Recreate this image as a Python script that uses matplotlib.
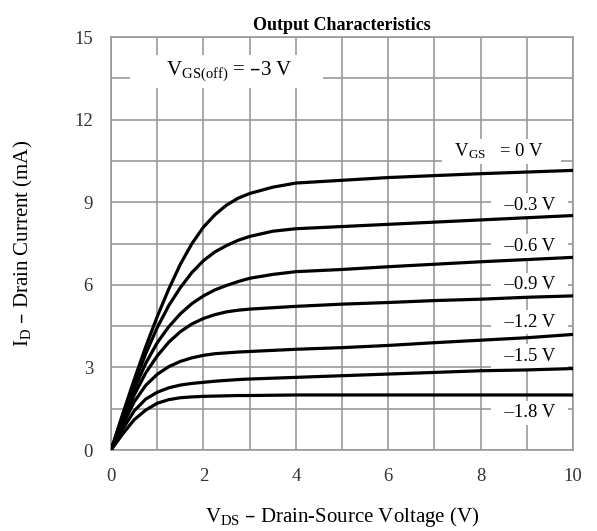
import matplotlib
matplotlib.use("Agg")
import matplotlib.pyplot as plt

plt.rcParams['font.family'] = ['Liberation Serif', 'DejaVu Serif']
plt.rcParams['mathtext.default'] = 'regular'

# drain-source voltage points (V)
vds = [0, 0.25, 0.5, 0.75, 1, 1.25, 1.5, 1.75, 2, 2.25, 2.5, 2.75, 3, 3.5, 4, 5, 6, 7, 8, 9, 10]

# drain current (mA) for each gate-source voltage
id_0v0 = [0, 1.3, 2.55, 3.75, 4.85, 5.85, 6.75, 7.5, 8.1, 8.55, 8.9, 9.15, 9.32, 9.55, 9.7, 9.8, 9.9, 9.97, 10.04, 10.1, 10.16]
id_0v3 = [0, 1.22, 2.4, 3.5, 4.45, 5.25, 5.9, 6.45, 6.88, 7.2, 7.43, 7.62, 7.76, 7.95, 8.04, 8.12, 8.2, 8.28, 8.36, 8.44, 8.52]
id_0v6 = [0, 1.12, 2.2, 3.15, 3.9, 4.48, 4.95, 5.32, 5.6, 5.82, 5.98, 6.12, 6.24, 6.38, 6.48, 6.56, 6.66, 6.75, 6.84, 6.92, 7.0]
id_0v9 = [0, 1.02, 2.0, 2.8, 3.42, 3.92, 4.3, 4.58, 4.78, 4.92, 5.02, 5.08, 5.12, 5.17, 5.22, 5.3, 5.36, 5.43, 5.48, 5.55, 5.6]
id_1v2 = [0, 0.9, 1.75, 2.35, 2.75, 3.03, 3.22, 3.35, 3.44, 3.5, 3.53, 3.56, 3.58, 3.62, 3.66, 3.72, 3.8, 3.9, 3.99, 4.08, 4.2]
id_1v5 = [0, 0.75, 1.42, 1.85, 2.1, 2.26, 2.36, 2.42, 2.46, 2.5, 2.53, 2.56, 2.58, 2.61, 2.64, 2.7, 2.76, 2.82, 2.88, 2.91, 2.96]
id_1v8 = [0, 0.58, 1.1, 1.45, 1.7, 1.83, 1.9, 1.93, 1.95, 1.96, 1.97, 1.98, 1.98, 1.99, 2.0, 2.0, 2.0, 2.0, 2.0, 2.0, 2.0]

curves = [id_0v0, id_0v3, id_0v6, id_0v9, id_1v2, id_1v5, id_1v8]
labels = ['–0.3 V', '–0.6 V', '–0.9 V', '–1.2 V', '–1.5 V', '–1.8 V']
label_y = [8.9, 7.4, 6.0, 4.65, 3.4, 1.35]

fig = plt.figure(figsize=(5.97, 5.31), dpi=100)
ax = fig.add_axes([0.186, 0.1525, 0.774, 0.7775])

for c in curves:
    ax.plot(vds, c, color='black', lw=2.3, zorder=4, solid_capstyle='round',
            solid_joinstyle='round')

ax.text(8.45, 10.85, r'  $V_{GS}$   = 0 V    ', ha='center', va='center', fontsize=13.5,
        bbox=dict(facecolor='white', edgecolor='none', boxstyle='square,pad=0.15'), zorder=3)
for lab, y in zip(labels, label_y):
    ax.text(9.05, y, '  ' + lab + '  ', ha='center', va='center', fontsize=13.5,
            bbox=dict(facecolor='white', edgecolor='none', boxstyle='square,pad=0.2'), zorder=3)
ax.text(2.5, 13.75, r'      $V_{GS(off)}$ = –3 V      ', ha='center', va='center', fontsize=15,
        bbox=dict(facecolor='white', edgecolor='none', boxstyle='square,pad=0.2'), zorder=3)

ax.set_xlim(0, 10)
ax.set_ylim(0, 15)
ax.set_xticks([0, 2, 4, 6, 8, 10])
ax.set_yticks([0, 3, 6, 9, 12, 15])
ax.set_xticks(range(11), minor=True)
ax.set_yticks([i * 1.5 for i in range(11)], minor=True)
ax.grid(True, which='both', color='#999999', lw=1.2, zorder=1)
ax.set_axisbelow(True)
ax.tick_params(which='both', length=0, labelsize=13.5, colors='#333333')
ax.tick_params(axis='x', pad=13)
ax.tick_params(axis='y', pad=13)
for s in ax.spines.values():
    s.set_color('#999999')
    s.set_linewidth(1.2)

ax.set_title('Output Characteristics', fontsize=13, fontweight='bold', pad=5)
ax.set_xlabel(r'$V_{DS}$ – Drain-Source Voltage (V)', fontsize=15, labelpad=14)
ax.set_ylabel(r'$I_{D}$ – Drain Current (mA)', fontsize=15, labelpad=28)

plt.savefig('out.png', dpi=100)
